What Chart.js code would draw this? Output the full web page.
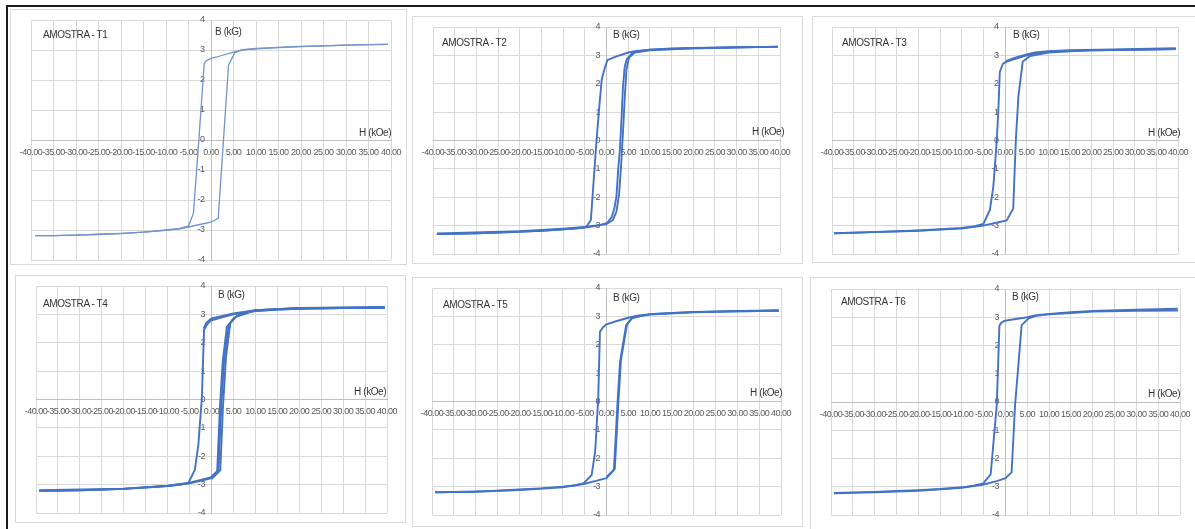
<!DOCTYPE html>
<html>
<head>
<meta charset="utf-8">
<script src="https://cdn.jsdelivr.net/npm/chart.js@4.4.1/dist/chart.umd.min.js"></script>
<style>
  html,body{margin:0;padding:0;}
  body{width:1195px;height:529px;background:#fff;position:relative;overflow:hidden;}
  .frame{position:absolute;background:#1a1a1a;}
  .panel{position:absolute;border:1px solid #d9d9d9;box-sizing:border-box;background:#fff;}
  canvas.c{position:absolute;}
  .lbl{position:absolute;white-space:nowrap;line-height:12px;height:12px;color:#333;letter-spacing:-0.4px;
       font-family:"Liberation Sans",Arial,sans-serif;font-size:10px;}
</style>
</head>
<body>
<div class="frame" style="left:6px;top:5px;width:1189px;height:2px;"></div>
<div class="frame" style="left:6px;top:5px;width:2px;height:524px;"></div>
<script>
// ---------- data (H in kOe, B in kG) ----------
const titles = ["AMOSTRA - T1","AMOSTRA - T2","AMOSTRA - T3","AMOSTRA - T4","AMOSTRA - T5","AMOSTRA - T6"];
const yTitle = "B (kG)";
const xTitle = "H (kOe)";
const xMin = -40, xMax = 40, xStep = 5;
const yMin = -4, yMax = 4, yStep = 1;

// T1
const T1_desc = [[39.3,3.19],[35,3.18],[30,3.16],[25,3.14],[20,3.12],[15,3.09],[10,3.05],[7,3.0],[5,2.93],[2,2.8],[0,2.72],[-1,2.65],[-1.5,2.56],[-2.7,0],[-3.9,-2.44],[-5,-2.87],[-7,-2.95],[-10,-3.0],[-15,-3.07],[-20,-3.11],[-25,-3.14],[-30,-3.17],[-35,-3.19],[-39.1,-3.19]];
const T1_asc  = [[-39.1,-3.19],[-35,-3.19],[-30,-3.17],[-25,-3.15],[-20,-3.12],[-15,-3.07],[-10,-3.01],[-7,-2.96],[-5,-2.9],[-2,-2.8],[0,-2.74],[1.6,-2.61],[3.9,2.5],[5.3,2.91],[7,3.01],[10,3.04],[15,3.08],[20,3.11],[25,3.14],[30,3.16],[35,3.18],[39.3,3.19]];
// T2
const T2_desc = [[39.5,3.31],[35,3.29],[30,3.28],[25,3.26],[20,3.25],[15,3.23],[10,3.2],[7,3.16],[5,3.1],[2,2.95],[0.2,2.83],[-0.5,2.5],[-1.1,2.15],[-1.6,1.3],[-2.3,0],[-3.0,-1.5],[-3.6,-2.8],[-4.7,-3.05],[-7,-3.1],[-10,-3.13],[-15,-3.18],[-20,-3.21],[-25,-3.24],[-30,-3.27],[-35,-3.29],[-39.1,-3.3]];
const T2_asc  = [[-39.1,-3.3],[-30,-3.27],[-20,-3.22],[-15,-3.18],[-10,-3.13],[-5,-3.07],[-2,-3.0],[0.2,-2.9],[1.2,-2.7],[1.8,-2.4],[2.3,-1.96],[2.7,-1.0],[3.1,-0.3],[3.5,0.9],[3.8,1.9],[4.2,2.6],[4.7,2.87],[6.2,3.12],[10,3.2],[15,3.24],[20,3.26],[30,3.29],[39.5,3.3]];
const T2_asc2 = [[-39.1,-3.28],[-20,-3.2],[-10,-3.11],[-5,-3.05],[0,-2.95],[1.5,-2.8],[2.3,-2.5],[2.9,-1.9],[3.4,-0.8],[3.8,0.3],[4.2,1.5],[4.6,2.5],[5.2,2.92],[6.5,3.1],[10,3.18],[20,3.25],[39.5,3.31]];
// T3
const T3_desc = [[39.5,3.22],[30,3.2],[20,3.18],[15,3.16],[10,3.12],[7,3.07],[5,3.0],[2,2.86],[0.4,2.78],[-0.5,2.7],[-1.2,2.42],[-1.5,1.2],[-1.9,0],[-2.7,-1.63],[-3.5,-2.45],[-5,-2.94],[-7,-3.02],[-10,-3.08],[-15,-3.13],[-20,-3.17],[-25,-3.2],[-30,-3.22],[-35,-3.25],[-39.5,-3.27]];
const T3_asc  = [[-39.5,-3.27],[-30,-3.23],[-20,-3.18],[-15,-3.14],[-10,-3.1],[-5,-3.0],[-2,-2.9],[0.4,-2.82],[1.9,-2.4],[2.2,-1.2],[2.5,0],[3.1,1.56],[4.1,2.78],[5.8,2.98],[10,3.1],[15,3.14],[20,3.18],[30,3.2],[39.5,3.22]];
const T3_desc2 = [[39.5,3.25],[25,3.21],[15,3.18],[10,3.15],[7,3.1],[5,3.03],[2,2.9],[0.2,2.8]];
// T4
const T4_desc = [[39.5,3.22],[30,3.22],[20,3.2],[15,3.17],[10,3.12],[7,3.06],[5,3.0],[2,2.88],[-0.2,2.78],[-1,2.65],[-1.7,2.45],[-2.2,0.04],[-3.0,-1.6],[-3.8,-2.48],[-5.3,-2.95],[-7,-3.0],[-10,-3.05],[-15,-3.1],[-20,-3.15],[-25,-3.18],[-30,-3.2],[-35,-3.22],[-39.3,-3.22]];
const T4_desc2 = [[39.5,3.25],[20,3.22],[10,3.15],[5,3.03],[2,2.93],[0,2.86],[-1.2,2.7],[-1.8,2.5]];
const T4_asc  = [[-39.3,-3.22],[-30,-3.2],[-20,-3.15],[-10,-3.05],[-5,-2.95],[-2,-2.85],[-0.2,-2.78],[1.3,-2.54],[1.9,-0.31],[2.55,1.33],[3.5,2.56],[5,2.86],[7,3.05],[10,3.12],[15,3.17],[20,3.2],[30,3.22],[39.5,3.22]];
const T4_asc2 = [[-39.3,-3.2],[-20,-3.14],[-10,-3.04],[-5,-2.93],[-0.2,-2.75],[1.6,-2.48],[2.2,-0.3],[2.9,1.4],[3.9,2.62],[5.4,2.9],[10,3.14],[20,3.22],[39.5,3.24]];
const T4_asc3 = [[0,-2.8],[2.0,-2.5],[2.6,-0.3],[3.3,1.5],[4.3,2.7],[5.8,2.95],[10,3.15],[20,3.23],[39.5,3.25]];
// T5
const T5_desc = [[39.5,3.2],[30,3.18],[20,3.15],[15,3.12],[10,3.08],[7,3.02],[5,2.95],[2,2.82],[0,2.72],[-0.8,2.62],[-1.5,2.46],[-1.9,0.1],[-2.6,-1.77],[-3.4,-2.59],[-5.2,-2.88],[-7,-2.95],[-10,-3.0],[-15,-3.06],[-20,-3.1],[-25,-3.14],[-30,-3.17],[-35,-3.19],[-39.3,-3.2]];
const T5_asc  = [[-39.3,-3.2],[-30,-3.18],[-20,-3.12],[-10,-3.02],[-5,-2.9],[-2,-2.78],[0,-2.7],[1.7,-2.41],[2.5,-0.12],[3.1,1.4],[4.5,2.69],[5.8,2.93],[8,3.02],[10,3.06],[20,3.14],[30,3.18],[39.5,3.2]];
const T5_asc2 = [[0,-2.67],[1.9,-2.37],[2.7,-0.1],[3.3,1.45],[4.7,2.72],[6,2.96],[10,3.08],[20,3.16],[39.5,3.22]];
// T6
const T6_desc = [[39.5,3.3],[30,3.27],[20,3.22],[15,3.18],[10,3.12],[7,3.07],[5,3.0],[2,2.93],[-0.3,2.87],[-1,2.8],[-1.4,2.7],[-2.0,-0.1],[-3.4,-2.56],[-5.1,-2.88],[-7,-2.95],[-10,-3.02],[-15,-3.08],[-20,-3.12],[-25,-3.15],[-30,-3.18],[-35,-3.2],[-39.3,-3.22]];
const T6_asc  = [[-39.3,-3.23],[-30,-3.2],[-20,-3.14],[-10,-3.04],[-5,-2.92],[-2,-2.8],[0,-2.7],[1.4,-2.49],[2.2,-0.1],[3.0,1.4],[3.7,2.72],[5.3,2.96],[7,3.05],[10,3.1],[15,3.15],[20,3.2],[30,3.23],[39.5,3.24]];

const seriesByPanel = [
  [T1_desc, T1_asc],
  [T2_desc, T2_asc, T2_asc2],
  [T3_desc, T3_desc2, T3_asc],
  [T4_desc, T4_desc2, T4_asc, T4_asc2, T4_asc3],
  [T5_desc, T5_asc, T5_asc2],
  [T6_desc, T6_asc]
];

// ---------- layout (page pixels) ----------
const layoutPanels = [
  {box:[10,9,407,265],   plot:[31,20,391,260],   t:[43,29],   b:[215,26],  h:[359,127], color:'#7293cc', w:1.3},
  {box:[412,16,803,264], plot:[433,27,780,254],  t:[442,37],  b:[613,29],  h:[752,126], color:'#4472c4', w:1.9},
  {box:[812,16,1202,263],plot:[832,27,1178,254], t:[842,37],  b:[1013,29], h:[1148,127],color:'#4472c4', w:1.9},
  {box:[15,275,406,523], plot:[36,286,387,513],  t:[43,298],  b:[218,289], h:[354,386], color:'#4472c4', w:1.9},
  {box:[412,277,803,527],plot:[432,288,781,515], t:[443,299], b:[613,292], h:[750,387], color:'#4472c4', w:1.9},
  {box:[810,277,1202,531],plot:[831,289,1180,515],t:[841,296],b:[1012,291],h:[1148,388],color:'#4472c4', w:1.9}
];
const M = 30;
const FONT = '"Liberation Sans",Arial,sans-serif';

const tightText = {
  id: 'tightText',
  beforeDraw(chart) { if ('letterSpacing' in chart.ctx) chart.ctx.letterSpacing = '-0.5px'; }
};

layoutPanels.forEach((L) => {
  const p = document.createElement('div');
  p.className = 'panel';
  p.style.left = L.box[0] + 'px'; p.style.top = L.box[1] + 'px';
  p.style.width = (L.box[2] - L.box[0]) + 'px'; p.style.height = (L.box[3] - L.box[1]) + 'px';
  document.body.appendChild(p);
});

layoutPanels.forEach((L, i) => {
  const cv = document.createElement('canvas');
  cv.className = 'c';
  const w = L.plot[2] - L.plot[0] + 2 * M, h = L.plot[3] - L.plot[1] + 2 * M;
  cv.width = w; cv.height = h;
  cv.style.width = w + 'px'; cv.style.height = h + 'px';
  cv.style.left = (L.plot[0] - M) + 'px'; cv.style.top = (L.plot[1] - M) + 'px';
  document.body.appendChild(cv);

  const datasets = seriesByPanel[i].map(br => ({
    data: br.map(pt => ({x: pt[0], y: pt[1]})),
    showLine: true, borderColor: L.color, borderWidth: L.w,
    pointRadius: 0, pointHoverRadius: 0, fill: false, tension: 0
  }));

  new Chart(cv, {
    type: 'scatter',
    data: {datasets},
    plugins: [tightText],
    options: {
      responsive: false, animation: false, events: [],
      layout: {padding: M},
      plugins: {legend: {display: false}, tooltip: {enabled: false}, title: {display: false}},
      scales: {
        x: {
          type: 'linear', min: xMin, max: xMax, position: {y: 0},
          ticks: {stepSize: xStep, autoSkip: false, maxRotation: 0, minRotation: 0, padding: 7,
                  color: '#595959', font: {family: FONT, size: 9},
                  callback: v => Number(v).toFixed(2)},
          grid: {color: '#d9d9d9', drawTicks: false, lineWidth: 1},
          border: {color: '#bfbfbf', width: 1}
        },
        y: {
          type: 'linear', min: yMin, max: yMax, position: {x: 0},
          ticks: {stepSize: yStep, color: '#595959', font: {family: FONT, size: 9},
                  callback: v => String(v) + '\u2007\u00a0'},
          grid: {color: '#d9d9d9', drawTicks: false, lineWidth: 1},
          border: {color: '#bfbfbf', width: 1}
        }
      }
    }
  });

  const mk = (txt, pos) => {
    const d = document.createElement('div');
    d.className = 'lbl'; d.textContent = txt;
    d.style.left = pos[0] + 'px'; d.style.top = pos[1] + 'px';
    document.body.appendChild(d);
  };
  mk(titles[i], L.t); mk(yTitle, L.b); mk(xTitle, L.h);
});
</script>
</body>
</html>
